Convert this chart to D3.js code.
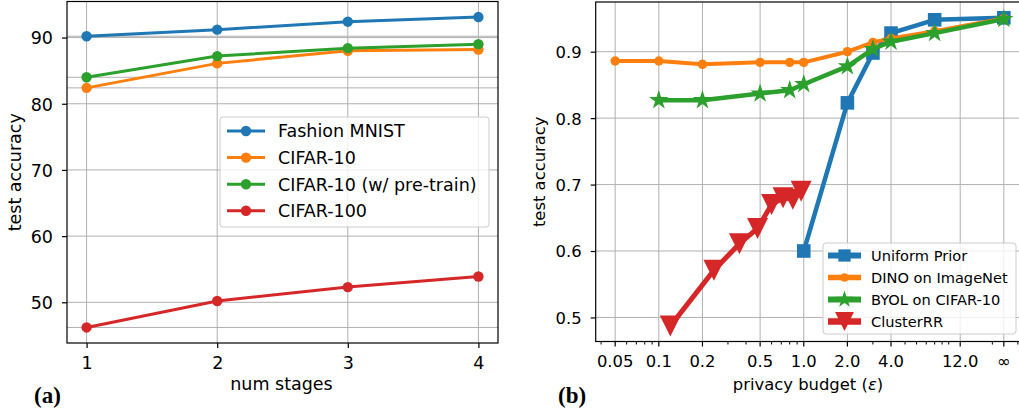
<!DOCTYPE html>
<html>
<head>
<meta charset="utf-8">
<script src="https://d3js.org/d3.v7.min.js"></script>
<style>
  body { margin: 0; background: #fff; }
  text { font-family: "DejaVu Sans", sans-serif; fill: #000; }
  .panelTag { font-family: "Liberation Serif", serif; font-weight: bold; font-size: 23px; }
</style>
</head>
<body>
<svg width="1019" height="413"></svg>
<script>
// ---- panel (a) data ----
const stages = [1, 2, 3, 4]
const fashionMnist = [90.2, 91.2, 92.4, 93.1]
const cifar10 = [82.4, 86.1, 88.0, 88.2]
const cifar10Pre = [84.0, 87.2, 88.4, 89.0]
const cifar100 = [46.2, 50.2, 52.3, 53.9]
const yTicksA = [50, 60, 70, 80, 90]

// ---- panel (b) data ----  (Infinity = no privacy, drawn at the ∞ tick)
const uniformEps = [1.0, 2.0, 3.0, 4.0, 8.0, Infinity]
const uniformAcc = [0.600, 0.823, 0.898, 0.928, 0.948, 0.951]
const dinoEps = [0.05, 0.1, 0.2, 0.5, 0.8, 1.0, 2.0, 3.0, 4.0, 8.0, Infinity]
const dinoAcc = [0.886, 0.886, 0.881, 0.884, 0.884, 0.884, 0.900, 0.914, 0.920, 0.931, 0.950]
const byolEps = [0.1, 0.2, 0.5, 0.8, 1.0, 2.0, 3.0, 4.0, 8.0, Infinity]
const byolAcc = [0.827, 0.827, 0.837, 0.842, 0.851, 0.878, 0.904, 0.915, 0.928, 0.949]
const clusterEps = [0.12, 0.24, 0.36, 0.48, 0.6, 0.72, 0.84, 0.96]
const clusterAcc = [0.487, 0.571, 0.611, 0.634, 0.670, 0.680, 0.678, 0.690]
const xTicksB = [0.05, 0.1, 0.2, 0.5, 1.0, 2.0, 4.0, 12.0, Infinity]
const xTickLabelsB = ["0.05", "0.1", "0.2", "0.5", "1.0", "2.0", "4.0", "12.0", "∞"]
const yTicksB = [0.5, 0.6, 0.7, 0.8, 0.9]

const blue = "#1f77b4", orange = "#ff7f0e", green = "#2ca02c", red = "#d62728"
const gridColor = "#b0b0b0"
const infPos = 24 // where ∞ sits on the log axis

const svg = d3.select("svg")

// ================= panel (a) =================
const A = { left: 67, right: 498, top: 1.5, bottom: 343 }
const xA = d3.scaleLinear().domain([0.85, 4.15]).range([A.left, A.right])
const yA = d3.scaleLinear().domain([43.85, 95.45]).range([A.bottom, A.top])

const gA = svg.append("g")

// grid (major ticks, plus the faint lines at each series' first value)
const hLinesA = yTicksA.concat([fashionMnist[0], cifar10[0], cifar10Pre[0], cifar100[0]])
gA.selectAll(".hgrid").data(hLinesA).join("line")
  .attr("x1", A.left).attr("x2", A.right)
  .attr("y1", d => yA(d)).attr("y2", d => yA(d))
  .attr("stroke", gridColor).attr("stroke-width", 1)
gA.selectAll(".vgrid").data(stages).join("line")
  .attr("x1", d => xA(d)).attr("x2", d => xA(d))
  .attr("y1", A.top).attr("y2", A.bottom)
  .attr("stroke", gridColor).attr("stroke-width", 1)

const seriesA = [
  { name: "Fashion MNIST", vals: fashionMnist, color: blue },
  { name: "CIFAR-10", vals: cifar10, color: orange },
  { name: "CIFAR-10 (w/ pre-train)", vals: cifar10Pre, color: green },
  { name: "CIFAR-100", vals: cifar100, color: red }
]
const lineA = d3.line().x(d => xA(d[0])).y(d => yA(d[1]))
seriesA.forEach(s => {
  const pts = stages.map((x, i) => [x, s.vals[i]])
  gA.append("path").attr("d", lineA(pts))
    .attr("fill", "none").attr("stroke", s.color).attr("stroke-width", 3)
  gA.selectAll(null).data(pts).join("circle")
    .attr("cx", d => xA(d[0])).attr("cy", d => yA(d[1])).attr("r", 5.2)
    .attr("fill", s.color)
})

// frame
gA.append("rect").attr("x", A.left).attr("y", A.top)
  .attr("width", A.right - A.left).attr("height", A.bottom - A.top)
  .attr("fill", "none").attr("stroke", "#000").attr("stroke-width", 1.2)

// axes
const axA_x = gA.append("g").attr("transform", `translate(0,${A.bottom})`)
  .call(d3.axisBottom(xA).tickValues(stages).tickSize(5).tickFormat(d3.format("d")))
axA_x.select(".domain").remove()
axA_x.selectAll("text").attr("y", 26).attr("dy", null).style("font-size", "17.5px")
const axA_y = gA.append("g").attr("transform", `translate(${A.left},0)`)
  .call(d3.axisLeft(yA).tickValues(yTicksA).tickSize(5))
axA_y.select(".domain").remove()
axA_y.selectAll("text").attr("x", -14).attr("dy", "0.36em").style("font-size", "17.5px")
gA.selectAll(".tick line").attr("stroke", "#000").attr("stroke-width", 1.2)

gA.append("text").attr("x", (A.left + A.right) / 2 - 1).attr("y", 390)
  .attr("text-anchor", "middle").style("font-size", "17.5px").text("num stages")
gA.append("text").attr("transform", `translate(21,${(A.top + A.bottom) / 2}) rotate(-90)`)
  .attr("text-anchor", "middle").style("font-size", "17.5px").text("test accuracy")
gA.append("text").attr("class", "panelTag").attr("x", 34).attr("y", 403).text("(a)")

// legend (a)
const legA = gA.append("g").attr("transform", "translate(220,117)")
legA.append("rect").attr("width", 269).attr("height", 110).attr("rx", 3)
  .attr("fill", "#fff").attr("fill-opacity", 0.8).attr("stroke", "#cccccc")
seriesA.forEach((s, i) => {
  const cy = 14 + i * 26.6
  legA.append("line").attr("x1", 7).attr("x2", 45).attr("y1", cy).attr("y2", cy)
    .attr("stroke", s.color).attr("stroke-width", 3)
  legA.append("circle").attr("cx", 26).attr("cy", cy).attr("r", 5.2).attr("fill", s.color)
  legA.append("text").attr("x", 58).attr("y", cy).attr("dy", "0.36em")
    .style("font-size", "17.5px").text(s.name)
})

// ================= panel (b) =================
const B = { left: 595.7, right: 1023.3, top: 2, bottom: 341.5 }
const xB = d3.scaleLog().domain([0.0367, 32.7]).range([B.left, B.right])
const yB = d3.scaleLinear().domain([0.4638, 0.9748]).range([B.bottom, B.top])
const ex = e => xB(e === Infinity ? infPos : e)

const gB = svg.append("g")
gB.selectAll(".hgrid").data(yTicksB).join("line")
  .attr("x1", B.left).attr("x2", B.right)
  .attr("y1", d => yB(d)).attr("y2", d => yB(d))
  .attr("stroke", gridColor).attr("stroke-width", 1)
gB.selectAll(".vgrid").data(xTicksB).join("line")
  .attr("x1", ex).attr("x2", ex)
  .attr("y1", B.top).attr("y2", B.bottom)
  .attr("stroke", gridColor).attr("stroke-width", 1)

const starPath = d3.symbol(d3.symbolStar, 115)()
const squarePath = d3.symbol(d3.symbolSquare, 185)()
const vPath = "M-10.5,-10.5L10.5,-10.5L0,10.5Z"

const seriesB = [
  { name: "Uniform Prior", eps: uniformEps, acc: uniformAcc, color: blue, lw: 4.5, mark: squarePath },
  { name: "DINO on ImageNet", eps: dinoEps, acc: dinoAcc, color: orange, lw: 4, mark: null },
  { name: "BYOL on CIFAR-10", eps: byolEps, acc: byolAcc, color: green, lw: 4.5, mark: starPath },
  { name: "ClusterRR", eps: clusterEps, acc: clusterAcc, color: red, lw: 5, mark: vPath }
]
const lineB = d3.line().x(d => ex(d[0])).y(d => yB(d[1]))

function drawMark(g, s, x, y, k) {
  if (s.mark === null) {
    g.append("circle").attr("cx", x).attr("cy", y).attr("r", 4.7 * k).attr("fill", s.color)
  } else {
    g.append("path").attr("d", s.mark)
      .attr("transform", `translate(${x},${y}) scale(${k})`)
      .attr("fill", s.color)
  }
}

seriesB.forEach(s => {
  const pts = s.eps.map((e, i) => [e, s.acc[i]])
  gB.append("path").attr("d", lineB(pts))
    .attr("fill", "none").attr("stroke", s.color).attr("stroke-width", s.lw)
    .attr("stroke-linejoin", "round")
  pts.forEach(p => drawMark(gB, s, ex(p[0]), yB(p[1]), 1))
})

gB.append("rect").attr("x", B.left).attr("y", B.top)
  .attr("width", B.right - B.left).attr("height", B.bottom - B.top)
  .attr("fill", "none").attr("stroke", "#000").attr("stroke-width", 1.2)

// x axis: fixed major ticks + log minor ticks
const minorB = []
for (let dec = 0.01; dec <= 10; dec *= 10) {
  for (let k = 1; k <= 9; k++) {
    const v = +(k * dec).toPrecision(3)
    if (v > 0.0367 && v < 32.7 && !xTicksB.includes(v) && v !== infPos) minorB.push(v)
  }
}
gB.selectAll(".minor").data(minorB).join("line")
  .attr("x1", d => xB(d)).attr("x2", d => xB(d))
  .attr("y1", B.bottom).attr("y2", B.bottom + 3)
  .attr("stroke", "#000").attr("stroke-width", 1)
gB.selectAll(".xmaj").data(xTicksB).join("line")
  .attr("x1", ex).attr("x2", ex)
  .attr("y1", B.bottom).attr("y2", B.bottom + 5)
  .attr("stroke", "#000").attr("stroke-width", 1.2)
gB.selectAll(".xlab").data(xTicksB).join("text")
  .attr("x", ex).attr("y", 367).attr("text-anchor", "middle")
  .style("font-size", "16.4px").text((d, i) => xTickLabelsB[i])

const axB_y = gB.append("g").attr("transform", `translate(${B.left},0)`)
  .call(d3.axisLeft(yB).tickValues(yTicksB).tickSize(5).tickFormat(d3.format(".1f")))
axB_y.select(".domain").remove()
axB_y.selectAll("text").attr("x", -14).attr("dy", "0.36em").style("font-size", "16.4px")
axB_y.selectAll(".tick line").attr("stroke", "#000").attr("stroke-width", 1.2)

const xLabB = gB.append("text").attr("x", 808).attr("y", 390).attr("text-anchor", "middle")
  .style("font-size", "16.4px")
xLabB.append("tspan").text("privacy budget (")
xLabB.append("tspan").style("font-style", "italic").text("ε")
xLabB.append("tspan").text(")")
gB.append("text").attr("transform", `translate(545,${(B.top + B.bottom) / 2}) rotate(-90)`)
  .attr("text-anchor", "middle").style("font-size", "16.4px").text("test accuracy")
gB.append("text").attr("class", "panelTag").attr("x", 558).attr("y", 403).text("(b)")

// legend (b)
const legB = gB.append("g").attr("transform", "translate(823,243)")
legB.append("rect").attr("width", 193).attr("height", 91).attr("rx", 3)
  .attr("fill", "#fff").attr("fill-opacity", 0.8).attr("stroke", "#cccccc")
seriesB.forEach((s, i) => {
  const cy = 12.5 + i * 22
  legB.append("line").attr("x1", 5).attr("x2", 38).attr("y1", cy).attr("y2", cy)
    .attr("stroke", s.color).attr("stroke-width", s.lw + 1.5)
  drawMark(legB, s, 21.5, cy, 0.9)
  legB.append("text").attr("x", 48).attr("y", cy).attr("dy", "0.36em")
    .style("font-size", "14.6px").text(s.name)
})
</script>
</body>
</html>
